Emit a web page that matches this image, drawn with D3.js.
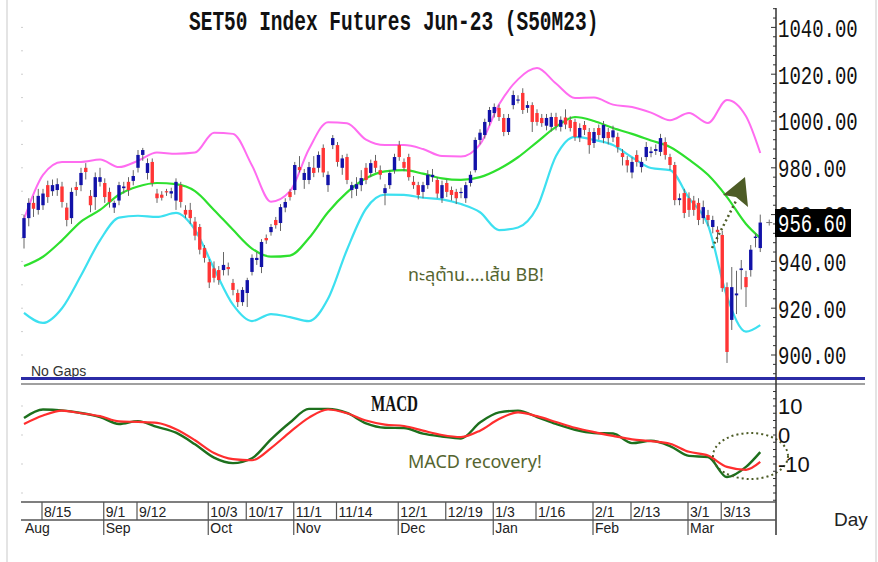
<!DOCTYPE html>
<html lang="th">
<head>
<meta charset="UTF-8">
<title>SET50 Index Futures Jun-23 (S50M23)</title>
<script src="https://d3js.org/d3.v7.min.js"></script>
<style>
  body { margin: 0; background: #ffffff; }
  svg { display: block; }
  .mono { font-family: "Liberation Mono", "Courier New", monospace; }
  .narrow { font-family: "Liberation Sans Narrow", "Arial Narrow", "Liberation Sans", sans-serif; }
  .note { font-family: "Noto Sans Thai", "Noto Sans", "DejaVu Sans", sans-serif; fill: #556530; }
</style>
</head>
<body>
<svg id="chart" width="878" height="562"></svg>
<script>
// daily candles, Aug 2022 - Mar 2023
const candleOpen = [
  950, 958.5, 965, 962, 964, 972.6, 970, 970.5, 972, 963,
  958.5, 971.8, 972.6, 980, 968, 967.5, 974, 973.5, 969.7, 963,
  966, 971.3, 974, 974.4, 980, 985.5, 977.8, 982.5, 969, 968.5,
  970, 969, 966, 972.6, 962, 962, 957, 954.7, 945.7, 939.7,
  937, 936.3, 936.3, 937.6, 930.8, 926.5, 922.6, 926.5, 935.5, 940.6,
  937.6, 950, 952.5, 957.7, 956.4, 963, 969.7, 970.5, 980.3, 974.8,
  974.8, 980, 980, 988.5, 972.6, 989.7, 989.7, 980, 984.6, 970.5,
  971, 972.6, 980, 977.8, 983, 979, 969.2, 972.6, 979, 989.7,
  982.5, 984.6, 974, 972.6, 969.7, 972.6, 976, 974.8, 967, 973.5,
  970.5, 969.7, 969.5, 967, 973.5, 979, 991.9, 994, 999.6, 1003.4,
  1005.6, 1001.3, 995.3, 1006.8, 1009, 1012, 1005.6, 1006.8, 1003.4, 1001.3,
  998, 997.5, 1001.7, 997.5, 1001.5, 1000.4, 999.6, 993, 998.3, 995.3,
  990.6, 997, 992.7, 995.3, 993, 993.2, 986.3, 983.3, 978, 985.5,
  980.3, 984.6, 986.3, 987.2, 986.8, 991, 984.6, 981.2, 966.2, 969.2,
  967, 966, 965, 958.5, 959.8, 954.7, 953.5, 951.3, 929, 915,
  925.5, 936.3, 933.3, 936.3, 950, 945.7
];
const candleHigh = [
  960, 967, 968, 971, 971, 974.5, 975, 975.5, 974, 965,
  971.5, 974, 980, 982, 970.5, 978, 980, 975.5, 971.5, 966,
  974, 974, 976, 979, 987.6, 988.5, 984, 984, 971, 970,
  971, 971.5, 975.5, 974, 964, 965, 959, 956, 947, 941,
  940, 938, 944, 939.5, 932.5, 928, 929, 933, 943, 944,
  949.5, 951.5, 956, 959, 964.5, 967, 971, 982.5, 985, 979.5,
  982.5, 985, 987, 990, 978.5, 994, 991, 985.5, 986, 974,
  976, 979, 982, 983.5, 985.5, 981, 973, 979, 986, 991.5,
  984, 986, 976.5, 974, 974, 979, 979.5, 976, 974.5, 975,
  972, 971, 971.5, 974, 978.5, 993, 996.5, 1001, 1006, 1007.5,
  1007, 1003, 1003, 1013, 1011, 1014, 1008.5, 1008, 1005, 1003,
  1003, 1003.5, 1003.5, 1002, 1005, 1002, 1001, 999, 1000, 997,
  997, 998.5, 1000, 997, 998, 995, 988, 985, 984.5, 987.5,
  984.5, 991, 989, 990, 994.5, 993, 986, 982.5, 969, 971,
  969.5, 968, 967, 966, 962, 959.5, 955, 953, 931, 937.6,
  936, 940.6, 936, 947, 952, 960
];
const candleLow = [
  945.5, 955, 959, 960, 962, 965, 968, 968, 963, 955,
  956, 968, 970, 975, 961, 962, 972, 965, 963, 960.7,
  964, 969, 968, 972.5, 978, 983, 975, 972, 965, 966,
  968, 967, 962, 963, 958.5, 956, 949, 943, 939.5, 928.6,
  931, 930, 934, 934, 925.5, 920.5, 921, 920.5, 934, 938.5,
  935, 947.5, 951, 954, 953, 961, 966, 968.5, 978, 971,
  973, 976, 978, 976, 969.7, 988, 980.5, 977, 973, 967,
  968, 970, 973, 976, 978, 975, 964, 971, 977.5, 983,
  978.5, 974.5, 971, 966.5, 967, 971, 974, 967, 965, 967.5,
  966, 964.5, 967, 965, 972, 978, 990, 992.5, 998, 1001.5,
  1000, 993.5, 994, 1005, 1007.5, 1003, 1003.5, 995.3, 998, 997.5,
  996, 995.5, 996, 995.5, 996.5, 995.5, 991.5, 991, 994, 986,
  988.5, 992, 990.5, 990, 991, 986.5, 981, 978, 975.5, 980.5,
  978, 983, 984.5, 985.5, 985, 983.5, 979, 964, 964, 958.5,
  959, 959.5, 955.5, 956, 955, 952, 948, 927, 896.6, 910.7,
  917.5, 928, 920.5, 933.5, 946, 944
];
const candleClose = [
  958.5, 965, 962.5, 968, 969, 967.5, 972.6, 973, 965.4, 957.7,
  969.7, 970.5, 977.8, 978.2, 964, 976, 976, 967.5, 965.4, 965,
  972.6, 972, 970.5, 976.5, 985.5, 987.6, 982, 973.5, 967, 967.2,
  969.5, 970, 974, 965.4, 960, 958.5, 951, 945, 941.5, 931,
  933, 932, 938.5, 936.7, 927.8, 922.6, 927.8, 932, 941.5, 941.5,
  948.3, 949, 954.7, 955.5, 963.2, 965.4, 967.5, 981.2, 979, 977.8,
  980.3, 977.8, 985.5, 978, 977, 992.7, 982.5, 984, 974.8, 972.6,
  973, 975.6, 974.8, 982, 980, 977, 971.3, 977.8, 984.6, 984.6,
  980, 976, 972.6, 968.4, 972.6, 977, 977, 969, 972.6, 969.7,
  968.4, 967, 969.7, 972.6, 977, 991.9, 995, 999.6, 1004.7, 1006,
  1001.7, 995.3, 1001.3, 1011.1, 1009.2, 1004.7, 1006.8, 999.6, 999.6, 999.1,
  1001.3, 1001.7, 997.8, 1000.5, 998.5, 997, 993.2, 997, 996.2, 989.7,
  995.3, 994, 998.3, 992.7, 996, 988.9, 984.6, 981, 982.5, 982.5,
  982.5, 988.9, 987, 988, 992.7, 985.5, 981.2, 966.2, 967, 960.7,
  962, 962, 957.7, 963.2, 957.7, 957.7, 952.5, 928.6, 901.3, 929,
  926.3, 937, 929, 945, 950.6, 956.6
];
const lastPrice = "956.60";

// Bollinger bands (20) read at every 4th bar
const bandIdx = [0, 4, 8, 12, 16, 20, 24, 28, 32, 36, 40, 44, 48, 52, 56, 60, 64, 68, 72, 76,
  80, 84, 88, 92, 96, 100, 104, 108, 112, 116, 120, 124, 128, 132, 136, 140, 144, 148, 152, 155];
const bbUpper = [958, 977, 982.5, 982.5, 983.5, 980.3, 983, 986.5, 986, 986.5,
  995, 994.5, 981, 965.5, 970, 988, 999.5, 999, 992, 989.7,
  989.7, 988, 985, 984.8, 990, 1007, 1017.8, 1022.6, 1016, 1009.8,
  1010, 1007, 1006, 1003.6, 1000.3, 1003.4, 999.1, 1009, 1002, 986.3];
const bbMiddle = [938, 942, 949, 957, 962, 968.5, 972, 973.5, 973, 970,
  962, 953.5, 945.5, 942, 942.5, 950, 961, 969.5, 975.5, 978.5,
  979, 977.5, 975.5, 974.8, 976, 979.5, 984.5, 991, 997.5, 1001.7,
  1000, 997, 994.5, 991.7, 988.9, 983.5, 977, 967.5, 956, 950];
const bbLower = [918, 913.7, 920, 934, 949, 958.7, 959.5, 959, 960.7, 953.5,
  937, 921.5, 914.5, 917.5, 916.2, 914.5, 924, 945, 962.5, 968.5,
  968.4, 967.2, 966.5, 964.5, 961, 953.4, 954.5, 963, 985, 993.2,
  991.9, 989.7, 984.5, 979.9, 979, 967, 955.5, 925, 910, 912.8];

// MACD and signal
const macdLine = [5.9, 8.8, 8.5, 7.6, 6.2, 3.8, 4.8, 2.8, 0.8, -3.2,
  -7.8, -9.7, -8, -1.5, 4.3, 9, 9, 7.6, 4, 2.5,
  2.4, 0.5, -0.5, -1.2, 4.3, 7.8, 8.4, 6.2, 3.8, 1.8,
  0.7, 0.5, -2.8, -2, -3.8, -7.2, -7.6, -14.5, -11, -5.9];
const signalLine = [3.8, 6.7, 8.4, 7.5, 6.5, 4.7, 4.5, 4.2, 2, -1.8,
  -6.2, -8.3, -8.7, -4.5, 1, 6, 8.8, 7.5, 5, 3.6,
  3.1, 1.5, 0, -0.7, 1.5, 5.5, 7.8, 6.5, 4.5, 2.5,
  1, -0.3, -1.5, -2.1, -3, -5.8, -7.1, -11, -12, -9.3];

// time axis
const dayTickIdx = [4, 17, 24, 39, 47, 57, 66, 79, 89, 99, 108, 120, 128, 140, 147];
const dayTickLabels = ["8/15", "9/1", "9/12", "10/3", "10/17", "11/1", "11/14", "12/1",
  "12/19", "1/3", "1/16", "2/1", "2/13", "3/1", "3/13"];
const monthIdx = [0, 17, 39, 57, 79, 99, 120, 140];
const monthLabels = ["Aug", "Sep", "Oct", "Nov", "Dec", "Jan", "Feb", "Mar"];

const priceTicks = [900, 920, 940, 960, 980, 1000, 1020, 1040];
const macdTicks = [10, 0, -10];

const svg = d3.select("#chart");

const x = d3.scaleLinear().domain([0, 155]).range([24, 760.25]);
const yP = d3.scaleLinear().domain([900, 1040]).range([355, 27.4]);
const yM = d3.scaleLinear().domain([-10, 10]).range([464, 406]);

const axisX = 776;
const tall = 1.37; // the chart's mono font is narrow and tall

// page edges
svg.append("rect").attr("x", 6).attr("y", 0).attr("width", 2).attr("height", 562).attr("fill", "#e4e4e4");
svg.append("rect").attr("x", 875).attr("y", 0).attr("width", 2).attr("height", 562).attr("fill", "#e4e4e4");

// clip paths
const defs = svg.append("defs");
defs.append("clipPath").attr("id", "clipP").append("rect")
  .attr("x", 20).attr("y", 8).attr("width", axisX - 20).attr("height", 368);
defs.append("clipPath").attr("id", "clipM").append("rect")
  .attr("x", 20).attr("y", 386).attr("width", axisX - 20).attr("height", 114);
defs.append("clipPath").attr("id", "clipHidden").append("rect")
  .attr("x", 776).attr("y", 190).attr("width", 90).attr("height", 19);

// faint left ticks
svg.selectAll("rect.lt").data(d3.range(900, 1041, 10)).enter().append("rect")
  .attr("x", 21).attr("y", d => yP(d) - 0.5).attr("width", 2).attr("height", 1).attr("fill", "#cfcfcf");
svg.selectAll("rect.lm").data([10, 0, -10, -20]).enter().append("rect")
  .attr("x", 21).attr("y", d => yM(d) - 0.5).attr("width", 2).attr("height", 1).attr("fill", "#cfcfcf");

// title
svg.append("text").attr("class", "mono")
  .attr("transform", `translate(189,30) scale(1,${tall})`)
  .attr("font-size", 19.5).attr("font-weight", "bold")
  .attr("fill", "#111")
  .text("SET50 Index Futures Jun-23 (S50M23)");

// ----- price panel -----
const gP = svg.append("g").attr("clip-path", "url(#clipP)");

const bandLine = arr => d3.line()
  .x((d, k) => x(bandIdx[k]))
  .y(d => yP(d))
  .curve(d3.curveMonotoneX)(arr);

gP.append("path").attr("d", bandLine(bbUpper)).attr("fill", "none").attr("stroke", "#ff6cf0").attr("stroke-width", 2);
gP.append("path").attr("d", bandLine(bbLower)).attr("fill", "none").attr("stroke", "#3de0f0").attr("stroke-width", 2.2);
gP.append("path").attr("d", bandLine(bbMiddle)).attr("fill", "none").attr("stroke", "#2ee02e").attr("stroke-width", 2.2);

const bars = candleOpen.map((o, i) => ({ i, o, h: candleHigh[i], l: candleLow[i], c: candleClose[i] }));

gP.selectAll("line.wick").data(bars).enter().append("line")
  .attr("x1", d => x(d.i)).attr("x2", d => x(d.i))
  .attr("y1", d => yP(d.h)).attr("y2", d => yP(d.l))
  .attr("stroke", "#666").attr("stroke-width", 1);

gP.selectAll("rect.body").data(bars).enter().append("rect")
  .attr("x", d => x(d.i) - 1.7).attr("width", 3.4)
  .attr("y", d => yP(Math.max(d.o, d.c)))
  .attr("height", d => Math.max(1.2, Math.abs(yP(d.o) - yP(d.c))))
  .attr("fill", d => d.c >= d.o ? "#1212a8" : "#ff3535");

// last-price cross marker
const lastY = yP(candleClose[candleClose.length - 1]);
svg.append("path").attr("d", `M${x(155) + 6},${lastY}h6M${x(155) + 9},${lastY - 3}v6`)
  .attr("stroke", "#777").attr("stroke-width", 1);

svg.append("text").attr("class", "narrow")
  .attr("x", 31).attr("y", 376).attr("font-size", 14).attr("fill", "#333")
  .text("No Gaps");

// annotation: arrow
svg.append("line").attr("x1", 712).attr("y1", 248).attr("x2", 737).attr("y2", 199)
  .attr("stroke", "#4d5c26").attr("stroke-width", 2.5).attr("stroke-dasharray", "2,3");
svg.append("polygon").attr("points", "745,177 723,195 736,197 748,207")
  .attr("fill", "#4d5c26");

svg.append("text").attr("class", "note")
  .attr("x", 408).attr("y", 281).attr("font-size", 18)
  .text("ทะลุต้าน....เส้น BB!");

// separator between panels
svg.append("rect").attr("x", 21).attr("y", 377).attr("width", 844).attr("height", 3).attr("fill", "#2b2ba6");
svg.append("rect").attr("x", 21).attr("y", 383).attr("width", 844).attr("height", 2).attr("fill", "#a0a0a0");

// ----- MACD panel -----
const gM = svg.append("g").attr("clip-path", "url(#clipM)");
const macdPath = arr => d3.line()
  .x((d, k) => x(bandIdx[k]))
  .y(d => yM(d))
  .curve(d3.curveMonotoneX)(arr);

gM.append("path").attr("d", macdPath(macdLine)).attr("fill", "none").attr("stroke", "#1d701d").attr("stroke-width", 2.4);
gM.append("path").attr("d", macdPath(signalLine)).attr("fill", "none").attr("stroke", "#ff2e2e").attr("stroke-width", 2.2);

svg.append("text")
  .attr("x", 371).attr("y", 411)
  .attr("font-family", "'Liberation Serif', 'Times New Roman', serif")
  .attr("font-weight", "bold").attr("font-size", 23)
  .attr("textLength", 47).attr("lengthAdjust", "spacingAndGlyphs")
  .attr("fill", "#111")
  .text("MACD");

svg.append("text").attr("class", "note")
  .attr("x", 408).attr("y", 468).attr("font-size", 18)
  .text("MACD recovery!");

svg.append("ellipse").attr("cx", 750.5).attr("cy", 456).attr("rx", 37.5).attr("ry", 23)
  .attr("fill", "none").attr("stroke", "#4d5c26").attr("stroke-width", 2).attr("stroke-dasharray", "2,3");

// ----- right axis -----
svg.append("line").attr("x1", axisX).attr("x2", axisX).attr("y1", 8).attr("y2", 535)
  .attr("stroke", "#333").attr("stroke-width", 1.5);

svg.selectAll("line.pt").data(d3.range(892, 1049, 4)).enter().append("line")
  .attr("x1", d => d % 20 === 0 ? axisX - 5 : axisX - 3).attr("x2", axisX)
  .attr("y1", d => yP(d)).attr("y2", d => yP(d))
  .attr("stroke", "#333").attr("stroke-width", 1);

svg.selectAll("line.mt").data(d3.range(-22.5, 16, 2.5)).enter().append("line")
  .attr("x1", axisX - 3).attr("x2", axisX)
  .attr("y1", d => yM(d)).attr("y2", d => yM(d))
  .attr("stroke", "#333").attr("stroke-width", 1);

const fmt = d3.format(".2f");
const lastVal = candleClose[candleClose.length - 1];
// labels covered by the last-price box only show their top sliver
const hidden = priceTicks.filter(d => Math.abs(d - lastVal) < 6);
const shown = priceTicks.filter(d => Math.abs(d - lastVal) >= 6);

svg.selectAll("text.pl").data(shown).enter().append("text")
  .attr("class", "mono pl")
  .attr("transform", d => `translate(778,${yP(d)}) scale(1,${tall})`)
  .attr("dy", "0.36em")
  .attr("font-size", 19)
  .attr("fill", "#111")
  .text(d => fmt(d));

svg.append("g").attr("clip-path", "url(#clipHidden)")
  .selectAll("text").data(hidden).enter().append("text").attr("class", "mono")
  .attr("transform", d => `translate(778,${yP(d)}) scale(1,${tall})`)
  .attr("dy", "0.36em").attr("font-size", 19).attr("fill", "#111")
  .text(d => fmt(d));

svg.append("rect").attr("x", 775).attr("y", 209).attr("width", 76).attr("height", 28).attr("fill", "#000");
svg.append("text").attr("class", "mono")
  .attr("transform", `translate(778,${lastY}) scale(1,${tall})`)
  .attr("dy", "0.36em")
  .attr("font-size", 19)
  .attr("fill", "#fff")
  .text(lastPrice);

svg.selectAll("text.ml").data(macdTicks).enter().append("text")
  .attr("class", "narrow ml")
  .attr("x", 778).attr("y", d => yM(d)).attr("dy", "0.36em")
  .attr("font-size", 22).attr("fill", "#111")
  .text(d => d);

// ----- time axis -----
svg.append("line").attr("x1", 21).attr("x2", axisX).attr("y1", 502).attr("y2", 502)
  .attr("stroke", "#555").attr("stroke-width", 1.5);
svg.append("line").attr("x1", 21).attr("x2", axisX).attr("y1", 520).attr("y2", 520)
  .attr("stroke", "#555").attr("stroke-width", 1.5);

svg.selectAll("line.dt").data(dayTickIdx).enter().append("line")
  .attr("x1", d => x(d) - 1).attr("x2", d => x(d) - 1)
  .attr("y1", 502).attr("y2", 520)
  .attr("stroke", "#555").attr("stroke-width", 1.2);

svg.selectAll("text.dl").data(dayTickIdx).enter().append("text")
  .attr("class", "narrow dl")
  .attr("x", d => x(d) + 1).attr("y", 517)
  .attr("font-size", 14).attr("fill", "#222")
  .text((d, k) => dayTickLabels[k]);

svg.selectAll("line.mo").data(monthIdx.slice(1)).enter().append("line")
  .attr("x1", d => x(d) - 1).attr("x2", d => x(d) - 1)
  .attr("y1", 520).attr("y2", 535)
  .attr("stroke", "#555").attr("stroke-width", 1.2);

svg.selectAll("text.mo").data(monthIdx).enter().append("text")
  .attr("class", "narrow mo")
  .attr("x", d => x(d) + 1).attr("y", 533)
  .attr("font-size", 14).attr("fill", "#222")
  .text((d, k) => monthLabels[k]);

svg.append("text").attr("class", "narrow")
  .attr("x", 834).attr("y", 526).attr("font-size", 19).attr("fill", "#222")
  .text("Day");
</script>
</body>
</html>
